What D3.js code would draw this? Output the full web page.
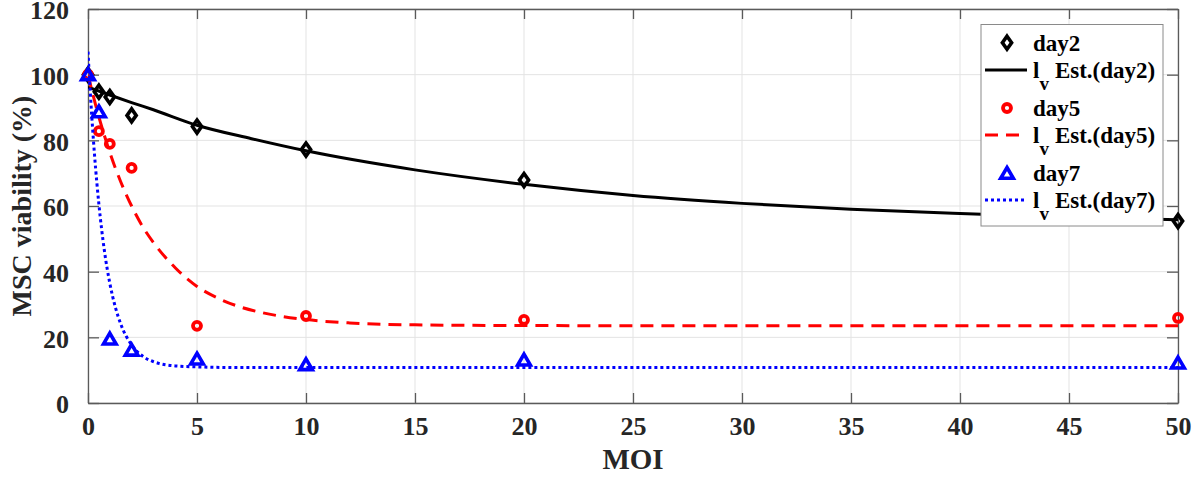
<!DOCTYPE html>
<html><head><meta charset="utf-8">
<script src="https://cdn.jsdelivr.net/npm/d3@7"></script>
<style>html,body{margin:0;padding:0;background:#fff;} svg{display:block;}</style>
</head><body>
<svg id="chart" width="1196" height="478"></svg>
<script>
// ---- data ----
const moi = [0, 0.5, 1, 2, 5, 10, 20, 50];
const day2 = [100, 94.8, 93.2, 87.6, 84.2, 77.2, 67.9, 55.4];
const day5 = [100, 82.8, 78.9, 71.6, 23.5, 26.5, 25.3, 25.9];
const day7 = [100, 88.7, 19.5, 16.1, 13.4, 11.7, 13.1, 12.2];

const fit2X = [0, 1, 2, 3, 5, 7.5, 10, 15, 20, 25, 30, 35, 40, 45, 50];
const fit2Y = [96.2, 93.8, 91.5, 89.3, 84.6, 80.5, 76.8, 71.0, 66.6, 63.2, 60.8, 59.0, 57.7, 56.6, 55.8];
const fit5X = [0, 0.25, 0.5, 0.75, 1, 1.5, 2, 2.5, 3, 4, 5, 6, 7, 8, 10, 12, 15, 20, 30, 50];
const fit5Y = [100, 93.3, 87.1, 81.5, 76.3, 67.4, 60.0, 53.8, 48.9, 41.2, 35.5, 31.8, 29.2, 27.5, 25.4, 24.4, 23.8, 23.6, 23.5, 23.5];
const fit7X = [0, 0.1, 0.2, 0.3, 0.5, 0.75, 1, 1.25, 1.5, 2, 2.5, 3, 4, 5, 7, 10, 20, 50];
const fit7Y = [107, 95.1, 84.7, 75.5, 60.5, 46.5, 36.5, 29.3, 24.1, 17.7, 14.3, 12.6, 11.3, 11.0, 10.8, 10.8, 10.8, 10.8];

const xTicks = [0, 5, 10, 15, 20, 25, 30, 35, 40, 45, 50];
const yTicks = [0, 20, 40, 60, 80, 100, 120];
const legendLabels = ["day2", "Est.(day2)", "day5", "Est.(day5)", "day7", "Est.(day7)"];

// ---- layout ----
const L = 88, R = 1178, T = 9, B = 403;
const svg = d3.select("#chart");
const x = d3.scaleLinear().domain([0, 50]).range([L, R]);
const y = d3.scaleLinear().domain([0, 120]).range([B, T]);
const FONT = "'Liberation Serif','Times New Roman',serif";
const axisCol = "#5a5a5a";

// grid
const g = svg.append("g");
g.selectAll(".gx").data(xTicks).enter().append("line")
  .attr("x1", d => x(d)).attr("x2", d => x(d)).attr("y1", T).attr("y2", B)
  .attr("stroke", "#e3e3e3").attr("stroke-width", 1);
g.selectAll(".gy").data(yTicks).enter().append("line")
  .attr("y1", d => y(d)).attr("y2", d => y(d)).attr("x1", L).attr("x2", R)
  .attr("stroke", "#e3e3e3").attr("stroke-width", 1);

// axes with inward ticks
const xAxisB = d3.axisBottom(x).tickValues(xTicks).tickSizeInner(-10).tickSizeOuter(0).tickPadding(14);
const xAxisT = d3.axisTop(x).tickValues(xTicks).tickSizeInner(-10).tickSizeOuter(0).tickFormat("");
const yAxisL = d3.axisLeft(y).tickValues(yTicks).tickSizeInner(-11).tickSizeOuter(0).tickPadding(19);
const yAxisR = d3.axisRight(y).tickValues(yTicks).tickSizeInner(-11).tickSizeOuter(0).tickFormat("");

function styleAxis(sel) {
  sel.selectAll("path").attr("stroke", axisCol).attr("stroke-width", 1.3);
  sel.selectAll("line").attr("stroke", axisCol).attr("stroke-width", 1.3);
  sel.selectAll("text").attr("fill", "#262626").style("font-family", FONT)
    .style("font-size", "26px").style("font-weight", "bold");
}
svg.append("g").attr("transform", `translate(0,${B})`).call(xAxisB).call(styleAxis)
  .selectAll("text").attr("dy", "0.71em");
svg.append("g").attr("transform", `translate(0,${T})`).call(xAxisT).call(styleAxis);
svg.append("g").attr("transform", `translate(${L},0)`).call(yAxisL).call(styleAxis)
  .selectAll("text").attr("dy", "0.38em");
svg.append("g").attr("transform", `translate(${R},0)`).call(yAxisR).call(styleAxis);

// axis labels
svg.append("text").attr("x", (L + R) / 2).attr("y", 469).attr("text-anchor", "middle")
  .style("font-family", FONT).style("font-size", "29px").style("font-weight", "bold")
  .attr("fill", "#262626").text("MOI");
svg.append("text").attr("transform", `translate(31,${(T + B) / 2}) rotate(-90)`).attr("text-anchor", "middle")
  .style("font-family", FONT).style("font-size", "28px").style("font-weight", "bold")
  .attr("fill", "#262626").text("MSC viability (%)");

// clip for fits
svg.append("clipPath").attr("id", "clip").append("rect")
  .attr("x", L).attr("y", T).attr("width", R - L).attr("height", B - T);

const line = d3.line().x(d => x(d[0])).y(d => y(d[1])).curve(d3.curveMonotoneX);

// marker shapes
const diamond = `M0,-6.5L4.6,0L0,6.5L-4.6,0Z`;
const tri = `M0,-5.8L6.3,5L-6.3,5Z`;

const series = [
  {vals: day2, fx: fit2X, fy: fit2Y, color: "#000000", shape: "d", dash: null},
  {vals: day5, fx: fit5X, fy: fit5Y, color: "#ff0000", shape: "o", dash: "13,8"},
  {vals: day7, fx: fit7X, fy: fit7Y, color: "#0000ff", shape: "t", dash: "3,3"}
];

function drawMarker(sel, shape, color) {
  if (shape === "o") {
    sel.append("circle").attr("r", 4).attr("fill", "none").attr("stroke", color).attr("stroke-width", 3.8);
  } else {
    sel.append("path").attr("d", shape === "d" ? diamond : tri)
      .attr("fill", "none").attr("stroke", color).attr("stroke-width", 3.6).attr("stroke-linejoin", "miter");
  }
}

series.forEach(s => {
  const pts = moi.map((m, i) => [m, s.vals[i]]);
  const mg = svg.append("g");
  pts.forEach(p => {
    const gg = mg.append("g").attr("transform", `translate(${x(p[0])},${y(p[1])})`);
    drawMarker(gg, s.shape, s.color);
  });
  const fpts = s.fx.map((v, i) => [v, s.fy[i]]);
  svg.append("path").datum(fpts).attr("d", line).attr("clip-path", "url(#clip)")
    .attr("fill", "none").attr("stroke", s.color).attr("stroke-width", 3)
    .attr("stroke-dasharray", s.dash);
});

// legend
const lg = svg.append("g");
lg.append("rect").attr("x", 981).attr("y", 24.5).attr("width", 182).attr("height", 201.5)
  .attr("fill", "#fff").attr("stroke", "#8a8a8a").attr("stroke-width", 1);
const rowY = [42.7, 70, 108, 135, 173.3, 200];
legendLabels.forEach((lab, i) => {
  const s = series[Math.floor(i / 2)];
  const cy = rowY[i];
  if (i % 2 === 0) {
    const gg = lg.append("g").attr("transform", `translate(1007,${cy})`);
    drawMarker(gg, s.shape, s.color);
    lg.append("text").attr("x", 1033).attr("y", cy + 8)
      .style("font-family", FONT).style("font-size", "23px").style("font-weight", "bold")
      .attr("fill", "#000").text(lab);
  } else {
    lg.append("line").attr("x1", 985).attr("x2", 1027).attr("y1", cy).attr("y2", cy)
      .attr("stroke", s.color).attr("stroke-width", 3).attr("stroke-dasharray", s.dash);
    const t = lg.append("text").attr("x", 1033).attr("y", cy + 8)
      .style("font-family", FONT).style("font-size", "23px").style("font-weight", "bold")
      .attr("fill", "#000");
    t.append("tspan").text("l");
    t.append("tspan").attr("dy", 12).style("font-size", "19px").text("v");
    t.append("tspan").attr("dy", -12).attr("dx", 6).text(lab);
  }
});
</script>
</body></html>
